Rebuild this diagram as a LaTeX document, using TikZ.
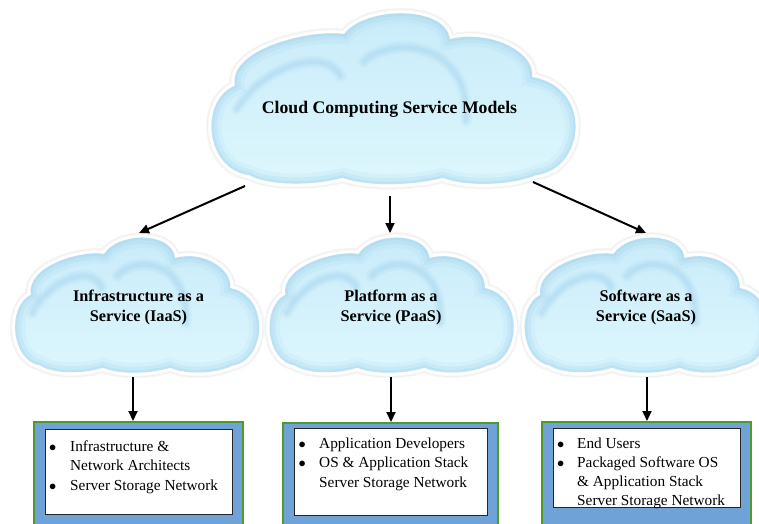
\documentclass[tikz,border=0pt]{standalone}
\usepackage{fontspec}
\setmainfont{Liberation Serif}
\usetikzlibrary{arrows.meta}

\definecolor{skytop}{HTML}{C8EBF9}
\definecolor{skybot}{HTML}{DDF7FD}
\definecolor{skyrim}{HTML}{9CCFEC}
\definecolor{skyarc}{HTML}{9ACCEB}
\definecolor{framefill}{HTML}{6FA3D8}
\definecolor{frameedge}{HTML}{4E9A2A}

% outline of a cloud in unit coordinates (y pointing up)
\newcommand\cloudoutline{(-0.80,-0.92)
 .. controls (-1.05,-0.85) and (-1.08,-0.05) .. (-0.88,0.12)
 .. controls (-0.92,0.55) and (-0.45,0.78) .. (-0.27,0.72)
 .. controls (-0.15,1.05) and (0.30,1.05) .. (0.32,0.66)
 .. controls (0.55,0.78) and (0.80,0.50) .. (0.78,0.22)
 .. controls (1.12,0.10) and (1.08,-0.85) .. (0.80,-0.92)
 .. controls (0.65,-1.05) and (0.40,-1.05) .. (0.28,-0.95)
 .. controls (0.10,-1.05) and (-0.15,-1.05) .. (-0.28,-0.95)
 .. controls (-0.45,-1.05) and (-0.70,-1.04) .. (-0.80,-0.92) -- cycle}

\newcommand\listbullet{$\bullet$}

\tikzset{
  pics/skycloud/.style n args={2}{code={
    \begin{scope}[x=#1pt,y=#2pt]
      % soft halo round the cloud
      \draw[line width=11pt, black!3] \cloudoutline;
      \draw[line width=9pt, black!6] \cloudoutline;
      \draw[line width=7.5pt, black!3] \cloudoutline;
      \draw[line width=6pt, white] \cloudoutline;
      \shade[top color=skytop, bottom color=skybot] \cloudoutline;
      \begin{scope}
        \clip \cloudoutline;
        % inner glow along the rim
        \draw[skyrim, line width=20pt, opacity=.12] \cloudoutline;
        \draw[skyrim, line width=12pt, opacity=.2] \cloudoutline;
        \draw[skyrim, line width=5pt, opacity=.25] \cloudoutline;
        % arcs where the puffs overlap
        \foreach \w/\o in {12/.1, 8/.15, 4/.2} {
          \draw[skyarc, line width=\w pt, opacity=\o, line cap=round]
            (-0.87,-0.15) .. controls (-0.70,0.40) and (-0.36,0.55) .. (-0.29,0.23);
          \draw[skyarc, line width=\w pt, opacity=\o, line cap=round]
            (-0.16,0.40) .. controls (0.0,0.72) and (0.44,0.62) .. (0.41,-0.29);
        }
      \end{scope}
    \end{scope}
  }},
  link/.style={-{Triangle[length=10pt,width=9pt]}, line width=2pt},
  frame/.style={draw=frameedge, fill=framefill, line width=1.8pt,
    inner sep=0pt, anchor=north},
  panel/.style={draw=black!85, fill=white, line width=1.2pt,
    inner sep=0pt, anchor=north west},
  cloudtext/.style={anchor=base, inner sep=0pt,
    font=\fontsize{16.3}{20}\selectfont\bfseries},
  listtext/.style={anchor=base west, inner sep=0pt,
    font=\fontsize{15.3}{19.5}\selectfont}
}

\begin{document}
\begin{tikzpicture}[x=1pt,y=-1pt]
  \path[use as bounding box, fill=white] (0,0) rectangle (759,523);
  \clip (0,0) rectangle (759,523);

  % clouds
  \pic at (392.5,96) {skycloud={179}{86}};
  \pic at (136.5,303) {skycloud={120}{68}};
  \pic at (391,303) {skycloud={120}{68}};
  \pic at (646,303) {skycloud={120}{68}};

  % cloud labels
  \node[anchor=base, inner sep=0pt, font=\fontsize{17.7}{21}\selectfont\bfseries]
    (title) at (389.5,113) {Cloud Computing Service Models};
  \node[cloudtext] (iaas) at (138.5,301.5)
    {\begin{tabular}[t]{@{}c@{}}Infrastructure as a\\Service (IaaS)\end{tabular}};
  \node[cloudtext] (paas) at (391,301.5)
    {\begin{tabular}[t]{@{}c@{}}Platform as a\\Service (PaaS)\end{tabular}};
  \node[cloudtext] (saas) at (646,301.5)
    {\begin{tabular}[t]{@{}c@{}}Software as a\\Service (SaaS)\end{tabular}};

  % arrow ends on the cloud rims
  \coordinate (title-sw) at (245,186);
  \coordinate (title-s)  at (390,196);
  \coordinate (title-se) at (533,182);
  \coordinate (iaas-top) at (139,233);
  \coordinate (paas-top) at (390,233);
  \coordinate (saas-top) at (646,233);
  \coordinate (iaas-bot) at (133,377);
  \coordinate (paas-bot) at (391,377);
  \coordinate (saas-bot) at (647,377);

  % framed boxes
  \node[frame, minimum width=209pt, minimum height=125pt] (iaasframe) at (138.5,421) {};
  \node[frame, minimum width=215pt, minimum height=125pt] (paasframe) at (390.5,422) {};
  \node[frame, minimum width=209pt, minimum height=125pt] (saasframe) at (646.5,421) {};

  \node[panel, minimum width=187pt, minimum height=85pt] (iaaspanel) at (45,429) {};
  \node[panel, minimum width=193pt, minimum height=87pt] (paaspanel) at (294,428) {};
  \node[panel, minimum width=187pt, minimum height=79pt] (saaspanel) at (553,428) {};

  \node[listtext] (iaaslist) at (49,451)
    {\begin{tabular}[t]{@{}p{21pt}@{}l@{}}
      \listbullet & Infrastructure \&\\
                  & Network Architects\\
      \listbullet & Server Storage Network
     \end{tabular}};
  \node[listtext] (paaslist) at (298.5,448)
    {\begin{tabular}[t]{@{}p{20.5pt}@{}l@{}}
      \listbullet & Application Developers\\
      \listbullet & OS \& Application Stack\\
                  & Server Storage Network
     \end{tabular}};
  \node[listtext, font=\fontsize{15.3}{19}\selectfont] (saaslist) at (557,448)
    {\begin{tabular}[t]{@{}p{20pt}@{}l@{}}
      \listbullet & End Users\\
      \listbullet & Packaged Software OS\\
                  & \& Application Stack\\
                  & Server Storage Network
     \end{tabular}};

  % connectors
  \draw[link] (title-sw) -- (iaas-top);
  \draw[link] (title-s)  -- (paas-top);
  \draw[link] (title-se) -- (saas-top);
  \draw[link] (iaas-bot) -- (iaas-bot |- iaasframe.north);
  \draw[link] (paas-bot) -- (paas-bot |- paasframe.north);
  \draw[link] (saas-bot) -- (saas-bot |- saasframe.north);
\end{tikzpicture}
\end{document}
